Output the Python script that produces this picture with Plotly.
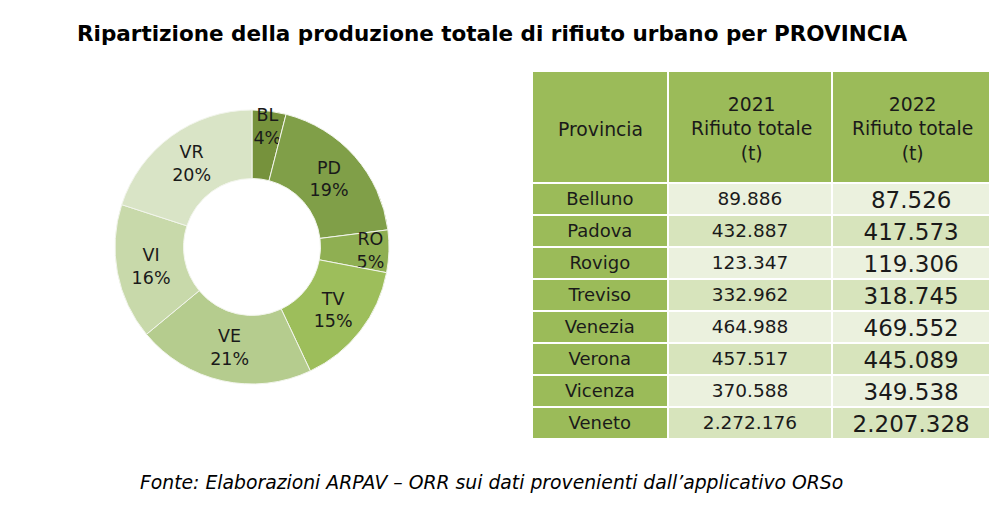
import plotly.graph_objects as go

# ---- data ----
sigle = ["BL", "PD", "RO", "TV", "VE", "VI", "VR"]
quote_pct = [4, 19, 5, 15, 21, 16, 20]
colori_fette = ["#76923C", "#809F48", "#8FAF52", "#9DBE5B", "#B5CC8E", "#C8D9AA", "#D9E4C6"]

province = ["Belluno", "Padova", "Rovigo", "Treviso", "Venezia", "Verona", "Vicenza", "Veneto"]
rifiuto_2021 = ["89.886", "432.887", "123.347", "332.962", "464.988", "457.517", "370.588", "2.272.176"]
rifiuto_2022 = ["87.526", "417.573", "119.306", "318.745", "469.552", "445.089", "349.538", "2.207.328"]
intestazioni = ["Provincia", "2021<br>Rifiuto totale<br>(t)", "2022<br>Rifiuto totale<br>(t)"]

titolo = "Ripartizione della produzione totale di rifiuto urbano per PROVINCIA"
fonte = "Fonte: Elaborazioni ARPAV – ORR sui dati provenienti dall’applicativo ORSo"

W, H = 1007, 505
OX, OY = 8, 8  # page body margin
FONT = "DejaVu Sans"


def px(x):
    return (x - OX) / W


def py(y):
    return 1 - (y - OY) / H


fig = go.Figure()

# donut
cx, cy, r = 252, 247, 137
fig.add_trace(go.Pie(
    labels=sigle, values=quote_pct, hole=0.5, sort=False,
    direction="clockwise", rotation=0,
    marker=dict(colors=colori_fette, line=dict(color="#F2F5EC", width=1)),
    texttemplate="%{label}<br>%{percent:.0%}",
    textposition="inside", insidetextorientation="horizontal",
    textfont=dict(family=FONT, size=17.5, color="#1a1a1a"),
    domain=dict(x=[px(cx - r), px(cx + r)], y=[py(cy + r), py(cy - r)]),
    showlegend=False, hoverinfo="label+percent",
))

# table
verde = "#9BBB59"
chiaro = "#EBF1DE"
medio = "#D7E4BC"
alt = [chiaro if i % 2 == 0 else medio for i in range(len(province))]
x0, x1 = 532, 991
fig.add_trace(go.Table(
    domain=dict(x=[px(x0), px(x1)], y=[py(445), py(71)]),
    columnwidth=[135, 164, 157],
    header=dict(
        values=["", "", ""], fill_color=verde, align="center", height=112,
        line=dict(color="white", width=2),
        font=dict(family=FONT, size=16, color="#1a1a1a"),
    ),
    cells=dict(
        values=[province, rifiuto_2021, rifiuto_2022],
        fill_color=[[verde] * len(province), alt, alt],
        align="center", height=32,
        line=dict(color="white", width=2),
        font=dict(family=FONT, size=[18, 18.5, 23], color="#1a1a1a"),
    ),
))

# header texts (centered lines)
centri = [600, 751, 912]
for testo, xc in zip(intestazioni, centri):
    fig.add_annotation(text=testo, x=px(xc), y=py(129), xref="paper", yref="paper",
                       xanchor="center", yanchor="middle", align="center", showarrow=False,
                       font=dict(family=FONT, size=18.8, color="#1a1a1a"))

fig.add_annotation(text="<b>" + titolo + "</b>", x=px(75), y=py(33), xref="paper", yref="paper",
                   xanchor="left", yanchor="middle", showarrow=False,
                   font=dict(family=FONT, size=21.5, color="#000000"))
fig.add_annotation(text="<i>" + fonte + "</i>", x=px(138), y=py(482), xref="paper", yref="paper",
                   xanchor="left", yanchor="middle", showarrow=False,
                   font=dict(family=FONT, size=18.8, color="#000000"))

fig.update_layout(
    width=W, height=H, margin=dict(l=0, r=0, t=0, b=0),
    paper_bgcolor="white", plot_bgcolor="white",
    uniformtext=dict(minsize=15, mode="show"),
)
fig.write_html("out.html")
